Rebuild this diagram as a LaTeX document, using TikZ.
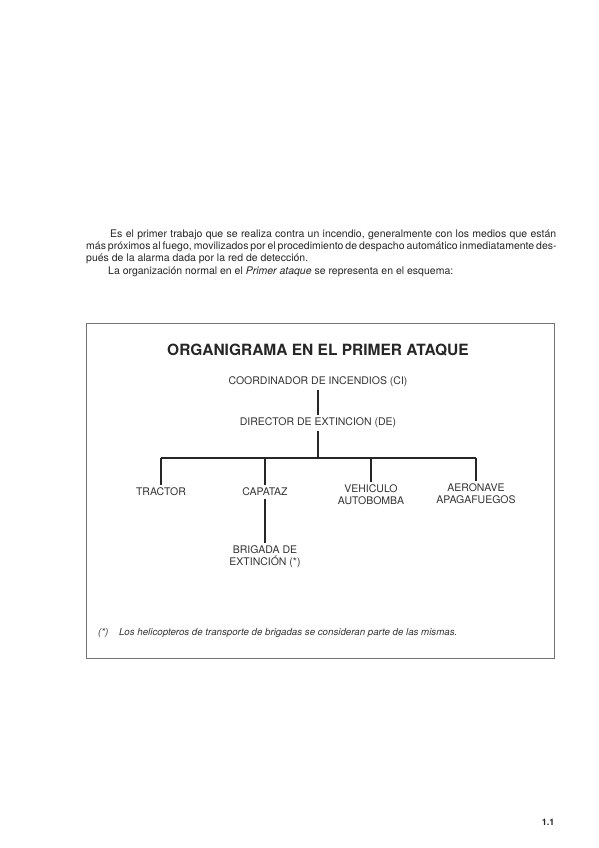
\documentclass[tikz,border=0pt]{standalone}
\usepackage{fontspec}
\setmainfont{TeX Gyre Heros}
\usetikzlibrary{positioning,calc}
\tikzset{
  txt/.style={anchor=west, inner sep=0pt, font=\fontsize{10.5}{12}\selectfont, text=black!85},
  ttl/.style={inner sep=1pt, font=\bfseries\fontsize{15.5}{17}\selectfont, text=black!85},
  rank/.style={align=center, inner sep=3pt, font=\fontsize{10.5}{12}\selectfont, text=black!80},
  link/.style={line width=1.2pt, black!85},
  frame/.style={draw=black!55, line width=0.6pt},
  note/.style={anchor=west, inner sep=0pt, font=\itshape\fontsize{9.7}{11}\selectfont, text=black!80},
}

\begin{document}
\begin{tikzpicture}[x=1pt,y=-1pt]
\useasboundingbox[fill=white] (0,0) rectangle (599,848);
\node[txt] (l1) at (110,235) {\makebox[446pt][s]{Es el primer trabajo que se realiza contra un incendio, generalmente con los medios que están}};
\node[txt] (l2) at (86,247) {\makebox[470pt][s]{más próximos al fuego, movilizados por el procedimiento de despacho automático inmediatamente des-}};
\node[txt] (l3) at (86,259) {pués de la alarma dada por la red de detección.};
\node[txt] (l4) at (108,272) {La organización normal en el \textit{Primer ataque} se representa en el esquema:};
\draw[frame] (86,323) rectangle (554,658);
\node[ttl] (title) at (318,350) {ORGANIGRAMA EN EL PRIMER ATAQUE};
\node[rank] (ci) at (318,382) {COORDINADOR DE INCENDIOS (CI)};
\node[rank] (de) at (318,423) {DIRECTOR DE EXTINCION (DE)};
\coordinate (bus) at (318,458);
\node[rank] (tr) at (161,492) {TRACTOR};
\node[rank] (ca) at (265,492) {CAPATAZ};
\node[rank] (ve) at (371,495) {VEHICULO\\AUTOBOMBA};
\node[rank] (ae) at (476,494) {AERONAVE\\APAGAFUEGOS};
\node[rank] (br) at (265,557) {BRIGADA DE\\EXTINCIÓN (*)};
\draw[link] (ci) -- (de);
\draw[link] (de) -- (bus);
\draw[link] (tr |- bus) -- (ae |- bus);
\foreach \n in {tr,ca,ve,ae}
  \draw[link] (\n |- bus) -- (\n);
\draw[link] (ca) -- (br);
\node[note] (fn) at (98,633) {(*)\hspace{1.1em}Los helicopteros de transporte de brigadas se consideran parte de las mismas.};
\node[inner sep=0pt, font=\bfseries\fontsize{9}{10}\selectfont, text=black!85] (pg) at (548,822) {1.1};
\end{tikzpicture}
\end{document}
